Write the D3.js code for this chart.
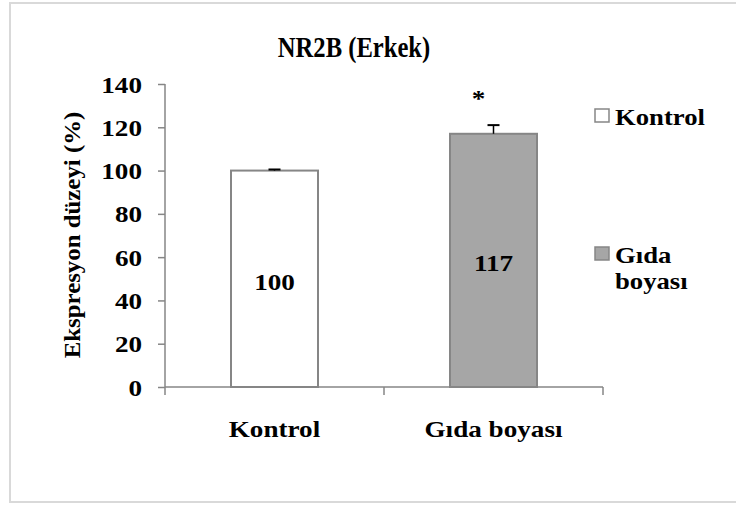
<!DOCTYPE html>
<html>
<head>
<meta charset="utf-8">
<script src="https://cdn.jsdelivr.net/npm/d3@7"></script>
<style>
  body { margin: 0; background: #fff; }
</style>
</head>
<body>
<script>
var groups = ["Kontrol", "Gıda boyası"];
var values = [100, 117];
var errors = [0.5, 4];
var fills = ["#ffffff", "#a6a6a6"];
var stars = ["", "*"];
var yTicks = [0, 20, 40, 60, 80, 100, 120, 140];
var legendLines = [["Kontrol"], ["Gıda", "boyası"]];

var serif = "'Liberation Serif', 'Times New Roman', serif";

var svg = d3.select("body")
  .append("svg")
  .attr("width", 736)
  .attr("height", 505);

// stretch text horizontally like the original picture
function styleText(sel, size, sx) {
  sel.style("font-family", serif)
    .style("font-weight", "bold")
    .style("font-size", size + "px")
    .style("fill", "#000");
  sel.each(function(){
    var w = this.getComputedTextLength();
    if (w > 0) d3.select(this).attr("textLength", w * sx).attr("lengthAdjust", "spacingAndGlyphs");
  });
  return sel;
}

// outer frame
svg.append("rect")
  .attr("x", 10).attr("y", 3)
  .attr("width", 740).attr("height", 499)
  .style("fill", "none")
  .style("stroke", "#d9d9d9")
  .style("stroke-width", 2);

var x = d3.scaleBand().domain(groups).range([165, 603]);
var y = d3.scaleLinear().domain([0, 140]).range([387, 84]);
var barW = 87;

styleText(svg.append("text")
  .attr("x", 354).attr("y", 57)
  .attr("text-anchor", "middle")
  .text("NR2B (Erkek)"), 30, 0.82);

// y axis
var yAxis = svg.append("g")
  .attr("transform", "translate(165,0)")
  .call(d3.axisLeft(y).tickValues(yTicks).tickSize(7).tickPadding(16));
yAxis.select(".domain").attr("d", "M0," + y(140) + "V" + y(0)).style("stroke", "#868686").style("stroke-width", 1.5);
yAxis.selectAll(".tick line").style("stroke", "#868686").style("stroke-width", 1.5);
yAxis.selectAll(".tick text").attr("dy", "0.35em");
styleText(yAxis.selectAll(".tick text"), 23, 1.18);

// x axis line with ticks at band edges
var xAxisG = svg.append("g");
xAxisG.append("line")
  .attr("x1", 165).attr("x2", 603)
  .attr("y1", y(0)).attr("y2", y(0))
  .style("stroke", "#868686").style("stroke-width", 1.5);
var edges = groups.map(function(g){ return x(g); }).concat([x.range()[1]]);
xAxisG.selectAll(".xt")
  .data(edges)
  .enter().append("line")
  .attr("x1", function(d){ return d; })
  .attr("x2", function(d){ return d; })
  .attr("y1", y(0)).attr("y2", y(0) + 8)
  .style("stroke", "#868686").style("stroke-width", 1.5);

styleText(xAxisG.selectAll(".xl")
  .data(groups)
  .enter().append("text")
  .attr("x", function(d){ return x(d) + x.bandwidth() / 2; })
  .attr("y", 437)
  .attr("text-anchor", "middle")
  .text(function(d){ return d; }), 23, 1.18);

// bars
svg.selectAll(".bar")
  .data(groups)
  .enter().append("rect")
  .attr("x", function(d){ return x(d) + x.bandwidth() / 2 - barW / 2; })
  .attr("y", function(d, i){ return y(values[i]); })
  .attr("width", barW)
  .attr("height", function(d, i){ return y(0) - y(values[i]); })
  .style("fill", function(d, i){ return fills[i]; })
  .style("stroke", "#868686")
  .style("stroke-width", 2);

// error bars
groups.forEach(function(g, i){
  var cx = x(g) + x.bandwidth() / 2;
  var top = y(values[i] + errors[i]);
  svg.append("line")
    .attr("x1", cx).attr("x2", cx)
    .attr("y1", y(values[i])).attr("y2", top)
    .style("stroke", "#000").style("stroke-width", 1.5);
  svg.append("line")
    .attr("x1", cx - 6).attr("x2", cx + 6)
    .attr("y1", top).attr("y2", top)
    .style("stroke", "#000").style("stroke-width", 2);
});

// value labels
styleText(svg.selectAll(".val")
  .data(groups)
  .enter().append("text")
  .attr("x", function(d){ return x(d) + x.bandwidth() / 2; })
  .attr("y", function(d, i){ return y(values[i] / 2) + 11; })
  .attr("text-anchor", "middle")
  .text(function(d, i){ return values[i]; }), 23, 1.18);

// significance
styleText(svg.selectAll(".star")
  .data(groups)
  .enter().append("text")
  .attr("x", function(d){ return x(d) + x.bandwidth() / 2 - 15; })
  .attr("y", 106)
  .attr("text-anchor", "middle")
  .text(function(d, i){ return stars[i]; }), 23, 1.18);

// y title
styleText(svg.append("text")
  .attr("transform", "translate(80,235) rotate(-90)")
  .attr("text-anchor", "middle")
  .text("Ekspresyon düzeyi (%)"), 23, 1.08);

// legend
var legendY = [109, 247];
legendLines.forEach(function(lines, i){
  svg.append("rect")
    .attr("x", 595).attr("y", legendY[i])
    .attr("width", 14).attr("height", 13)
    .style("fill", fills[i])
    .style("stroke", "#868686")
    .style("stroke-width", 1.5);
  lines.forEach(function(t, j){
    styleText(svg.append("text")
      .attr("x", 615).attr("y", legendY[i] + 16 + j * 26)
      .text(t), 23, 1.16);
  });
});
</script>
</body>
</html>
